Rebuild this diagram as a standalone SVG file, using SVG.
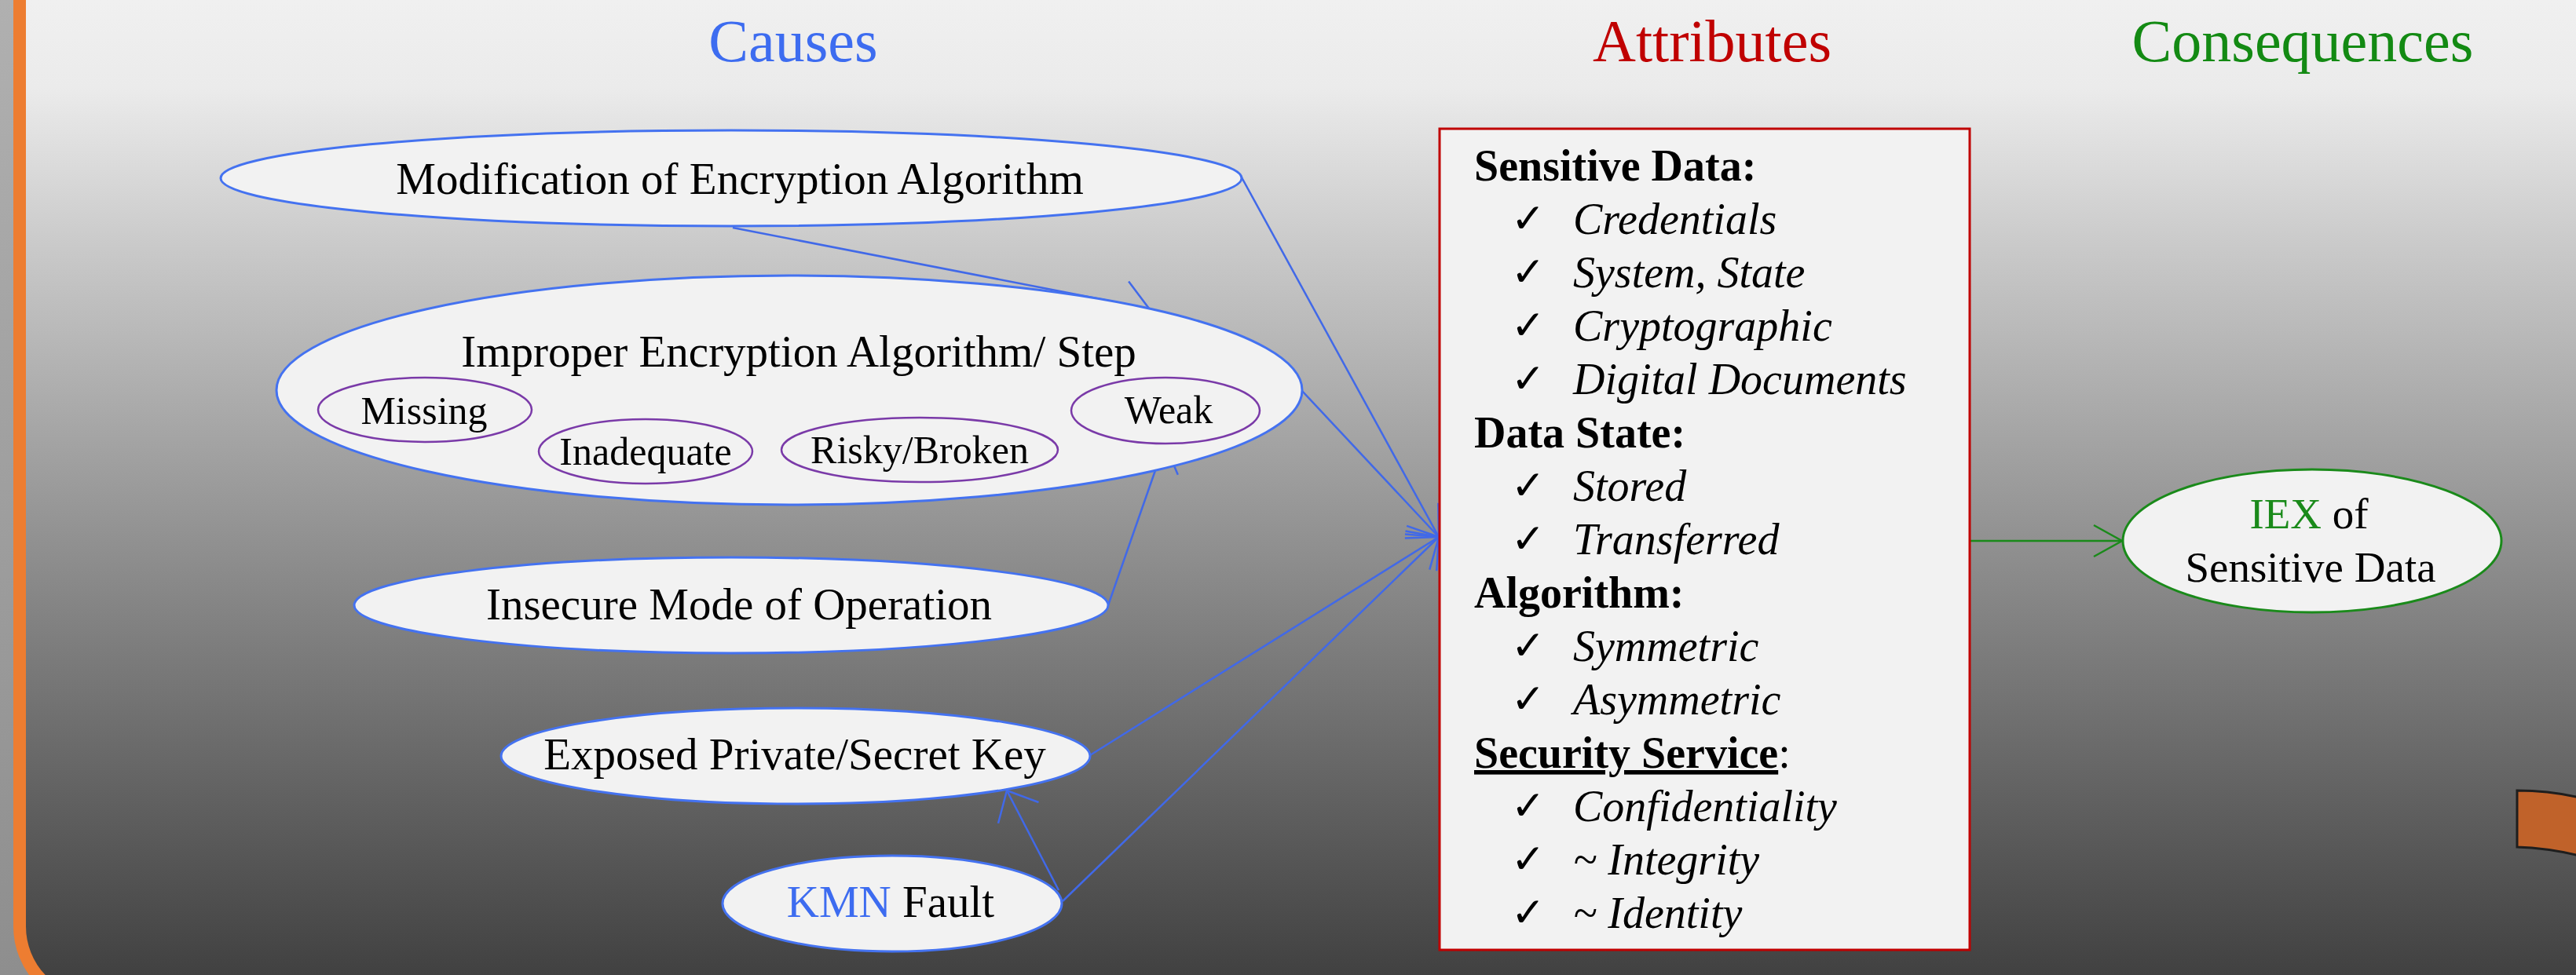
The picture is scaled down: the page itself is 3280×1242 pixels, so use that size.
<svg xmlns="http://www.w3.org/2000/svg" width="3280" height="1242" viewBox="0 0 3280 1242">
  <defs>
    <linearGradient id="bgMain" gradientUnits="userSpaceOnUse" x1="0" y1="0" x2="0" y2="1242">
      <stop offset="0" stop-color="#f0f0f0"/>
      <stop offset="0.09" stop-color="#ebebeb"/>
      <stop offset="0.25" stop-color="#cacaca"/>
      <stop offset="0.45" stop-color="#a4a4a4"/>
      <stop offset="0.64" stop-color="#818181"/>
      <stop offset="0.83" stop-color="#5f5f5f"/>
      <stop offset="1" stop-color="#414141"/>
    </linearGradient>
    <linearGradient id="bgEdge" gradientUnits="userSpaceOnUse" x1="0" y1="0" x2="0" y2="1242">
      <stop offset="0" stop-color="#b0b0b0"/>
      <stop offset="1" stop-color="#8e8e8e"/>
    </linearGradient>
    <marker id="headBlue" markerUnits="userSpaceOnUse" viewBox="-40 -35 45 70" refX="0" refY="0" markerWidth="45" markerHeight="70" orient="auto" overflow="visible">
      <path d="M-32,-29 L0,0 L-32,29" fill="none" stroke="#4169e8" stroke-width="2.5"/>
    </marker>
    <marker id="headGreen" markerUnits="userSpaceOnUse" viewBox="-40 -25 45 50" refX="0" refY="0" markerWidth="45" markerHeight="50" orient="auto" overflow="visible">
      <path d="M-36,-20 L0,0 L-36,20" fill="none" stroke="#1a8a1a" stroke-width="2.5"/>
    </marker>
    <style>
      .serif { font-family: "Liberation Serif", "Times New Roman", serif; }
      .title { font-size: 76px; text-anchor: middle; }
      .cause { fill: #f2f2f2; stroke: #4472f0; stroke-width: 3; }
      .sub { fill: #f2f2f2; stroke: #7a3aa8; stroke-width: 2.5; }
      .lbl { font-size: 57px; fill: #000; text-anchor: middle; }
      .sublbl { font-size: 50px; fill: #000; text-anchor: middle; }
      .wire { stroke: #4169e8; stroke-width: 2.5; fill: none; marker-end: url(#headBlue); }
      .head { font-size: 56px; font-weight: bold; fill: #000; }
      .item { font-size: 56px; font-style: italic; fill: #000; }
      .tick { font-family: "DejaVu Sans", sans-serif; font-size: 52px; font-weight: bold; fill: #000; }
    </style>
  </defs>

  <!-- backdrop: outer strip and framed panel with rounded corner -->
  <rect x="0" y="0" width="3280" height="1242" fill="url(#bgEdge)"/>
  <rect x="25" y="-200" width="3400" height="1478" rx="98" ry="98" fill="url(#bgMain)" stroke="#ed7d31" stroke-width="16"/>

  <!-- curved band at the lower right -->
  <path d="M3205,1007 C3235,1007 3262,1010 3292,1018 L3292,1092 C3262,1084 3235,1080 3205,1079 Z" fill="#c0622a" stroke="#1e1e1e" stroke-width="3"/>

  <!-- column headings -->
  <g id="headings" class="serif">
    <text class="title" x="1010" y="78" fill="#3d6cf0">Causes</text>
    <text class="title" x="2180" y="78" fill="#c00000">Attributes</text>
    <text class="title" x="2932" y="78" fill="#138a13">Consequences</text>
  </g>

  <!-- connectors -->
  <g id="connectors">
    <line class="wire" x1="1581" y1="226" x2="1832" y2="684"/>
    <line class="wire" x1="933" y1="290" x2="1463" y2="393"/>
    <line class="wire" x1="1658" y1="498" x2="1832" y2="684"/>
    <line class="wire" x1="1411" y1="771" x2="1483" y2="565"/>
    <line class="wire" x1="1388" y1="962" x2="1832" y2="684"/>
    <line class="wire" x1="1353" y1="1148" x2="1832" y2="684"/>
    <line class="wire" x1="1348" y1="1134" x2="1282" y2="1007"/>
    <line x1="2509" y1="689" x2="2702" y2="689" stroke="#1a8a1a" stroke-width="2.5" marker-end="url(#headGreen)"/>
  </g>

  <!-- cause nodes -->
  <g id="node-modification" class="serif">
    <ellipse class="cause" cx="931" cy="227" rx="650" ry="61"/>
    <text class="lbl" x="942" y="247">Modification of Encryption Algorithm</text>
  </g>

  <g id="node-improper" class="serif">
    <ellipse class="cause" cx="1005" cy="497" rx="653" ry="146"/>
    <text class="lbl" x="1017" y="467">Improper Encryption Algorithm/ Step</text>
  </g>
  <g id="node-missing" class="serif">
    <ellipse class="sub" cx="541" cy="522" rx="136" ry="41"/>
    <text class="sublbl" x="540" y="540">Missing</text>
  </g>
  <g id="node-inadequate" class="serif">
    <ellipse class="sub" cx="822" cy="575" rx="136" ry="41"/>
    <text class="sublbl" x="822" y="592">Inadequate</text>
  </g>
  <g id="node-risky" class="serif">
    <ellipse class="sub" cx="1171" cy="573" rx="176" ry="41"/>
    <text class="sublbl" x="1171" y="590">Risky/Broken</text>
  </g>
  <g id="node-weak" class="serif">
    <ellipse class="sub" cx="1484" cy="523" rx="120" ry="42"/>
    <text class="sublbl" x="1488" y="539">Weak</text>
  </g>

  <g id="node-insecure-mode" class="serif">
    <ellipse class="cause" cx="931" cy="771" rx="480" ry="61"/>
    <text class="lbl" x="941" y="789">Insecure Mode of Operation</text>
  </g>

  <g id="node-exposed-key" class="serif">
    <ellipse class="cause" cx="1013" cy="963" rx="375" ry="61"/>
    <text class="lbl" x="1012" y="980">Exposed Private/Secret Key</text>
  </g>

  <g id="node-kmn-fault" class="serif">
    <ellipse class="cause" cx="1136" cy="1151" rx="216" ry="61"/>
    <text class="lbl" x="1134" y="1168"><tspan fill="#3d6cf0">KMN</tspan> Fault</text>
  </g>

  <!-- attribute box -->
  <g id="node-attributes" class="serif">
    <rect x="1833" y="164" width="675" height="1046" fill="#f2f2f2" stroke="#c00000" stroke-width="3"/>
    <text class="head" x="1877" y="230">Sensitive Data:</text>
    <text class="tick" x="1924" y="296">✓</text><text class="item" x="2003" y="298">Credentials</text>
    <text class="tick" x="1924" y="364">✓</text><text class="item" x="2003" y="366">System, State</text>
    <text class="tick" x="1924" y="432">✓</text><text class="item" x="2003" y="434">Cryptographic</text>
    <text class="tick" x="1924" y="500">✓</text><text class="item" x="2003" y="502">Digital Documents</text>
    <text class="head" x="1877" y="570">Data State:</text>
    <text class="tick" x="1924" y="636">✓</text><text class="item" x="2003" y="638">Stored</text>
    <text class="tick" x="1924" y="704">✓</text><text class="item" x="2003" y="706">Transferred</text>
    <text class="head" x="1877" y="774">Algorithm:</text>
    <text class="tick" x="1924" y="840">✓</text><text class="item" x="2003" y="842">Symmetric</text>
    <text class="tick" x="1924" y="908">✓</text><text class="item" x="2003" y="910">Asymmetric</text>
    <text x="1877" y="978" font-size="56"><tspan font-weight="bold" text-decoration="underline">Security Service</tspan>:</text>
    <text class="tick" x="1924" y="1044">✓</text><text class="item" x="2003" y="1046">Confidentiality</text>
    <text class="tick" x="1924" y="1112">✓</text><text class="item" x="2003" y="1114">~ Integrity</text>
    <text class="tick" x="1924" y="1180">✓</text><text class="item" x="2003" y="1182">~ Identity</text>
  </g>

  <!-- consequence node -->
  <g id="node-iex" class="serif">
    <ellipse cx="2944" cy="689" rx="241" ry="91" fill="#f2f2f2" stroke="#1a8a1a" stroke-width="3"/>
    <text x="2940" y="673" font-size="55" text-anchor="middle"><tspan fill="#1a8a1a">IEX</tspan> of</text>
    <text x="2942" y="741" font-size="55" text-anchor="middle">Sensitive Data</text>
  </g>
</svg>
